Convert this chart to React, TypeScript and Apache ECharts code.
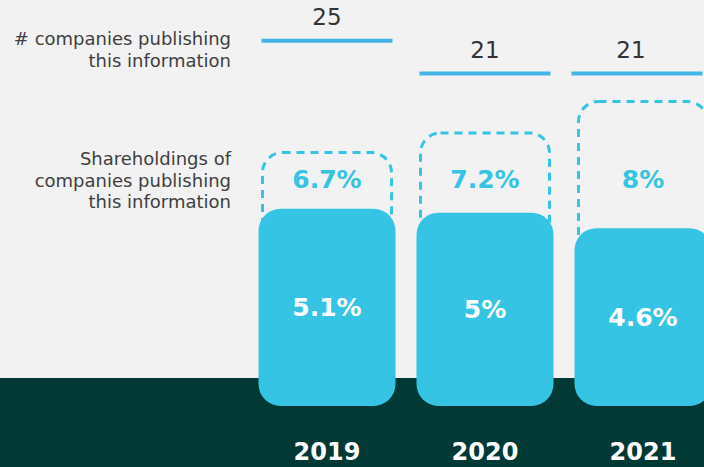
import { useEffect, useRef } from "react";
import * as echarts from "echarts";

const years = ["2019", "2020", "2021"];
const shareAll = [6.7, 7.2, 8.0];
const shareInner = [5.1, 5.0, 4.6];
const companiesCount = [25, 21, 21];

const CYAN = "#35c4e3";
const LINE = "#43b4e6";
const BAND = "#013a35";
const FONT = "DejaVu Sans";

const pct = (p: any) => `${p.value}%`;

export default function App() {
  const ref = useRef<HTMLDivElement>(null);
  useEffect(() => {
    if (!ref.current) return;
    document.body.style.margin = "0";
    document.body.style.overflow = "hidden";
    const chart = echarts.init(ref.current, undefined, { renderer: "svg" });
    const gridBase = { left: 248, width: 474, top: 0, outerBoundsMode: "none", containLabel: false };
    const option: any = {
      animation: false,
      backgroundColor: "#f2f2f2",
      textStyle: { fontFamily: FONT },
      graphic: [
        {
          type: "rect",
          z: 2,
          silent: true,
          shape: { x: 0, y: 378, width: 704, height: 89 },
          style: { fill: BAND },
        },
        {
          type: "text",
          z: 5,
          x: 231,
          y: 49,
          style: {
            text: "# companies publishing\nthis information",
            fill: "#404040",
            font: `18px "${FONT}"`,
            align: "right",
            verticalAlign: "middle",
            lineHeight: 22,
          },
        },
        {
          type: "text",
          z: 5,
          x: 231,
          y: 180,
          style: {
            text: "Shareholdings of\ncompanies publishing\nthis information",
            fill: "#404040",
            font: `18px "${FONT}"`,
            align: "right",
            verticalAlign: "middle",
            lineHeight: 21.5,
          },
        },
      ],
      grid: [
        { ...gridBase, bottom: 61 },
        { ...gridBase, bottom: 53 },
        { ...gridBase, height: 245 },
      ],
      xAxis: [0, 1, 2].map((i) => ({
        type: "category",
        gridIndex: i,
        data: years,
        show: i === 0,
        z: 6,
        axisLine: { show: false },
        axisTick: { show: false },
        axisLabel: {
          color: "#ffffff",
          fontWeight: "bold",
          fontSize: 24,
          lineHeight: 18,
          fontFamily: FONT,
          margin: 37,
        },
      })),
      yAxis: [
        { type: "value", gridIndex: 0, min: 0, max: 10.5, show: false },
        { type: "value", gridIndex: 1, min: 0, max: 10.55, show: false },
        { type: "value", gridIndex: 2, min: 0, max: 30, show: false },
      ],
      series: [
        {
          type: "bar",
          name: "Shareholdings (all)",
          xAxisIndex: 1,
          yAxisIndex: 1,
          z: 1,
          barWidth: 132,
          data: shareAll,
          itemStyle: {
            color: "rgba(0,0,0,0)",
            borderColor: CYAN,
            borderWidth: 3,
            borderType: [8, 6],
            borderRadius: 20,
          },
          label: {
            show: true,
            position: "insideBottom",
            distance: 222,
            formatter: pct,
            color: CYAN,
            fontWeight: "bold",
            fontSize: 25,
            fontFamily: FONT,
          },
        },
        {
          type: "bar",
          name: "Shareholdings",
          xAxisIndex: 0,
          yAxisIndex: 0,
          z: 3,
          barWidth: 137,
          data: shareInner,
          itemStyle: { color: CYAN, borderRadius: 22 },
          label: {
            show: true,
            position: "inside",
            formatter: pct,
            color: "#ffffff",
            fontWeight: "bold",
            fontSize: 25,
            fontFamily: FONT,
          },
        },
        {
          type: "scatter",
          name: "# companies",
          xAxisIndex: 2,
          yAxisIndex: 2,
          z: 3,
          symbol: "rect",
          symbolSize: [131, 4],
          data: companiesCount.map((v, i) =>
            i === 2
              ? { value: v, symbolOffset: [-6, 0], label: { offset: [-6, 0] } }
              : v
          ),
          itemStyle: { color: LINE, opacity: 1 },
          label: {
            show: true,
            position: "top",
            distance: 10,
            color: "#333333",
            fontSize: 23,
            fontFamily: FONT,
          },
        },
      ],
    };
    chart.setOption(option);
    return () => chart.dispose();
  }, []);
  return (
    <div
      ref={ref}
      style={{ position: "fixed", left: 0, top: 0, width: 704, height: 467 }}
    />
  );
}
